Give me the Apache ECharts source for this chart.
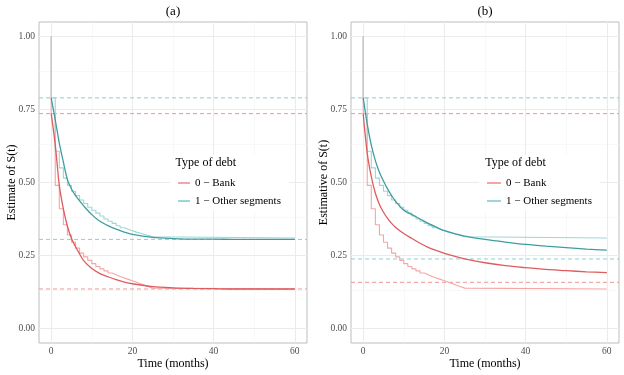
<!DOCTYPE html>
<html>
<head>
<meta charset="utf-8">
<script src="https://cdn.jsdelivr.net/npm/echarts@6/dist/echarts.min.js"></script>
<style>
  html, body { margin: 0; padding: 0; background: #fff; }
  #chart { width: 624px; height: 375px; }
</style>
</head>
<body>
<div id="chart"></div>
<script>
  // axis ticks and grid
  const xTicks = [0, 20, 40, 60];
  const xMinor = [10, 30, 50];
  const yTicks = [0, 0.25, 0.5, 0.75, 1];
  const yMinor = [0.125, 0.375, 0.625, 0.875];
  const X_MIN = -3, X_MAX = 63;

  const seriesNames = ['0 − Bank', '1 − Other segments'];
  const panelTitles = ['(a)', '(b)'];
  const yNames = ['Estimate of S(t)', 'Estimative of S(t)'];

  // Kaplan-Meier steps (same data in both panels)
  const kmTime = [0, 0, 1, 2, 3, 4, 5, 6, 7, 8, 9, 10, 11, 12, 13, 14, 15, 16, 17, 18, 19, 20, 21, 22, 23, 24, 25, 60];
  const kmBank = [1, 0.736, 0.49, 0.41, 0.355, 0.32, 0.295, 0.275, 0.258, 0.245, 0.233, 0.222, 0.212, 0.204, 0.197, 0.19, 0.184, 0.178, 0.173, 0.168, 0.163, 0.158, 0.153, 0.148, 0.143, 0.138, 0.135, 0.135];
  const kmOther = [1, 0.79, 0.607, 0.55, 0.515, 0.49, 0.47, 0.455, 0.44, 0.428, 0.415, 0.405, 0.395, 0.385, 0.375, 0.367, 0.36, 0.352, 0.345, 0.34, 0.335, 0.33, 0.326, 0.322, 0.318, 0.314, 0.31, 0.31];

  // fitted curves
  const fitTime = [0, 1, 2, 3, 4, 5, 6, 7, 8, 10, 12, 14, 16, 18, 20, 25, 30, 35, 40, 45, 50, 55, 60];
  const fitBankA = [0.736, 0.63, 0.49, 0.41, 0.35, 0.308, 0.28, 0.255, 0.232, 0.205, 0.188, 0.177, 0.167, 0.159, 0.153, 0.143, 0.139, 0.137, 0.136, 0.135, 0.135, 0.135, 0.135];
  const fitOtherA = [0.79, 0.715, 0.635, 0.57, 0.51, 0.478, 0.455, 0.437, 0.42, 0.39, 0.367, 0.352, 0.34, 0.33, 0.322, 0.312, 0.308, 0.306, 0.306, 0.305, 0.305, 0.305, 0.305];
  const fitBankB = [0.736, 0.6, 0.52, 0.463, 0.425, 0.398, 0.377, 0.36, 0.346, 0.325, 0.308, 0.292, 0.278, 0.267, 0.257, 0.238, 0.225, 0.215, 0.208, 0.202, 0.198, 0.194, 0.191];
  const fitOtherB = [0.79, 0.7, 0.628, 0.575, 0.535, 0.505, 0.478, 0.455, 0.435, 0.405, 0.39, 0.375, 0.36, 0.347, 0.335, 0.316, 0.305, 0.296, 0.288, 0.282, 0.277, 0.272, 0.268];

  // dashed reference levels
  const hBankA = [0.736, 0.135];
  const hOtherA = [0.79, 0.305];
  const hBankB = [0.736, 0.158];
  const hOtherB = [0.79, 0.238];

  const FONT = 'Liberation Serif';
  const RED = '#de5b5e', TEAL = '#3f9d9f';
  const RED_LIGHT = '#f4a6a6', TEAL_LIGHT = '#9ed5d7';
  const RED_DASH = '#f19597', TEAL_DASH = '#8fcfd2';
  const gridLeft = [39, 351];

  const zip = (xs, ys) => xs.map((x, i) => [x, ys[i]]);

  const chart = echarts.init(document.getElementById('chart'));

  function gridLines(i, data, style) {
    return {
      type: 'line', xAxisIndex: i, yAxisIndex: i, data: [], silent: true, z: 1,
      markLine: {
        silent: true, symbol: ['none', 'none'], label: {show: false}, z: 1,
        animation: false, lineStyle: style,
        emphasis: {disabled: true},
        data: data
      }
    };
  }

  function dashSeries(i, levels, color) {
    return levels.map(v => ({
      type: 'line', xAxisIndex: i, yAxisIndex: i, silent: true, z: 2,
      showSymbol: false, symbol: 'none',
      lineStyle: {color: color, width: 1, type: [4, 3]},
      data: [[X_MIN, v], [X_MAX, v]]
    }));
  }

  function panelSeries(i, fitBank, fitOther, hBank, hOther) {
    const list = [];
    list.push(gridLines(i, [...yMinor.map(v => ({yAxis: v})), ...xMinor.map(v => ({xAxis: v}))],
      {color: '#f4f4f4', width: 0.6, type: 'solid'}));
    list.push(gridLines(i, [...yTicks.map(v => ({yAxis: v})), ...xTicks.map(v => ({xAxis: v}))],
      {color: '#ebebeb', width: 1, type: 'solid'}));
    list.push(...dashSeries(i, hBank, RED_DASH));
    list.push(...dashSeries(i, hOther, TEAL_DASH));
    [[kmBank, seriesNames[0], RED_LIGHT], [kmOther, seriesNames[1], TEAL_LIGHT]].forEach(([vals, name, c]) => {
      list.push({
        name: name, type: 'line', step: 'end', xAxisIndex: i, yAxisIndex: i,
        showSymbol: false, symbol: 'none', z: 3,
        itemStyle: {color: c}, lineStyle: {color: c, width: 1.1},
        data: zip(kmTime, vals)
      });
    });
    [[fitBank, RED], [fitOther, TEAL]].forEach(([vals, c], k) => {
      list.push({
        name: 'fit' + i + k, type: 'line', smooth: 0.3, xAxisIndex: i, yAxisIndex: i,
        showSymbol: false, symbol: 'none', z: 4,
        itemStyle: {color: c}, lineStyle: {color: c, width: 1.3},
        data: zip(fitTime, vals)
      });
    });
    return list;
  }

  const option = {
    animation: false,
    backgroundColor: '#fff',
    title: [
      ...panelTitles.map((t, i) => ({
        text: t, left: gridLeft[i] + 134, top: 5, textAlign: 'center', padding: 0,
        textStyle: {fontFamily: FONT, fontSize: 13, fontWeight: 'normal', color: '#000'}
      })),
      ...[175.6, 485.3].map(x => ({
        text: 'Type of debt', left: x, top: 157, padding: 0, z: 8,
        textStyle: {fontFamily: FONT, fontSize: 12, fontWeight: 'normal', color: '#000'}
      }))
    ],
    legend: [[170, 12], [479, 14]].map(([x, w]) => ({
      orient: 'vertical', left: x, top: 155, padding: [22, 8, 4, 8],
      backgroundColor: '#fff', icon: 'rect', itemWidth: w, itemHeight: 2, itemGap: 6,
      selectedMode: false,
      textStyle: {fontFamily: FONT, fontSize: 11, color: '#000', lineHeight: 12},
      data: seriesNames
    })),
    grid: gridLeft.map(l => ({
      left: l, top: 22, width: 268, height: 322, show: true,
      borderColor: '#bdbdbd', borderWidth: 1, backgroundColor: '#fff', containLabel: false
    })),
    xAxis: [0, 1].map(i => ({
      gridIndex: i, type: 'value', min: X_MIN, max: X_MAX,
      splitLine: {show: false}, axisLine: {show: false},
      axisTick: {show: true, customValues: xTicks, length: 3, lineStyle: {color: '#aaa'}},
      axisLabel: {customValues: xTicks, margin: 3, fontFamily: FONT, fontSize: 9.5, color: '#4d4d4d'},
      name: 'Time (months)', nameLocation: 'middle', nameGap: 15, nameMoveOverlap: false,
      nameTextStyle: {fontFamily: FONT, fontSize: 12, color: '#000', verticalAlign: 'top'}
    })),
    yAxis: [0, 1].map(i => ({
      gridIndex: i, type: 'value', min: -0.05, max: 1.05,
      splitLine: {show: false}, axisLine: {show: false},
      axisTick: {show: true, customValues: yTicks, length: 3, lineStyle: {color: '#aaa'}},
      axisLabel: {customValues: yTicks, margin: 4, formatter: v => v.toFixed(2), fontFamily: FONT, fontSize: 9.5, color: '#4d4d4d'},
      name: yNames[i], nameLocation: 'middle', nameGap: 27, nameMoveOverlap: false,
      nameTextStyle: {fontFamily: FONT, fontSize: 12, color: '#000', verticalAlign: 'middle'}
    })),
    series: [
      ...panelSeries(0, fitBankA, fitOtherA, hBankA, hOtherA),
      ...panelSeries(1, fitBankB, fitOtherB, hBankB, hOtherB)
    ]
  };

  chart.setOption(option);
</script>
</body>
</html>
